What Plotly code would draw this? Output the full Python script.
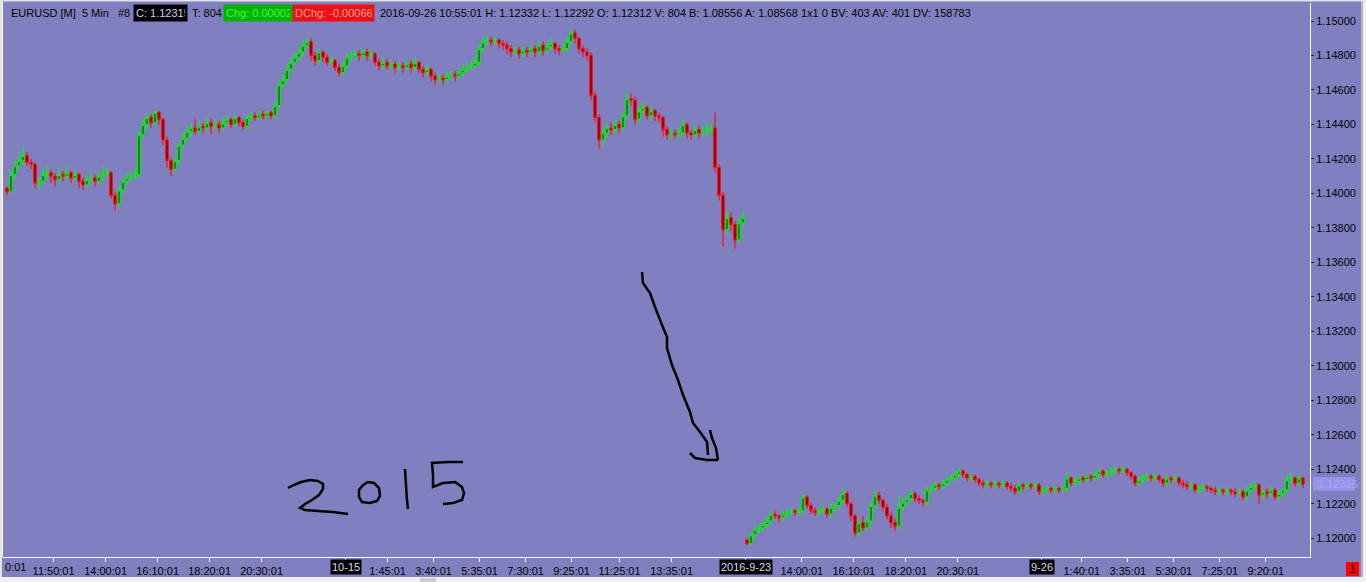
import plotly.graph_objects as go

# ---------------- data (10-minute candles) ----------------
seg1_open = [1.1403,1.1401,1.1411,1.1416,1.1419,1.1422,1.1418,1.1417,1.1406,1.1407,
 1.1411,1.1412,1.1410,1.1408,1.1411,1.1410,1.1412,1.1409,1.1411,1.1407,
 1.1405,1.1408,1.1409,1.1407,1.1410,1.1411,1.1412,1.1399,1.1394,1.1402,
 1.1407,1.1409,1.1410,1.1411,1.1434,1.1440,1.1444,1.1441,1.1447,1.1443,
 1.1431,1.1419,1.1414,1.1419,1.1428,1.1432,1.1436,1.1438,1.1436,1.1439,
 1.1438,1.1441,1.1439,1.1440,1.1438,1.1441,1.1443,1.1440,1.1444,1.1441,
 1.1439,1.1444,1.1445,1.1444,1.1446,1.1445,1.1447,1.1445,1.1451,1.1463,
 1.1466,1.1472,1.1476,1.1479,1.1482,1.1486,1.1488,1.1480,1.1477,1.1482,
 1.1479,1.1476,1.1477,1.1473,1.1470,1.1474,1.1479,1.1480,1.1481,1.1480,
 1.1482,1.1480,1.1481,1.1476,1.1474,1.1476,1.1474,1.1475,1.1473,1.1474,
 1.1473,1.1475,1.1473,1.1476,1.1472,1.1470,1.1472,1.1468,1.1466,1.1467,
 1.1466,1.1468,1.1469,1.1468,1.1470,1.1472,1.1473,1.1474,1.1476,1.1484,
 1.1488,1.1489,1.1488,1.1489,1.1487,1.1486,1.1484,1.1482,1.1483,1.1481,
 1.1483,1.1482,1.1484,1.1482,1.1486,1.1483,1.1485,1.1487,1.1484,1.1483,
 1.1484,1.1488,1.1493,1.1490,1.1484,1.1482,1.1480,1.1457,1.1444,1.1431,
 1.1435,1.1438,1.1437,1.1440,1.1438,1.1445,1.1455,1.1454,1.1443,1.1448,
 1.1450,1.1445,1.1448,1.1445,1.1444,1.1437,1.1434,1.1435,1.1434,1.1435,
 1.1440,1.1435,1.1434,1.1437,1.1435,1.1436,1.1437,1.1438,1.1415,1.1399,
 1.1379,1.1386,1.1382,1.1373,1.1383]
seg1_high = [1.1404,1.1413,1.1419,1.1424,1.1428,1.1424,1.1420,1.1418,1.1409,1.1414,
 1.1416,1.1414,1.1412,1.1415,1.1413,1.1416,1.1413,1.1414,1.1412,1.1409,
 1.1411,1.1413,1.1411,1.1413,1.1416,1.1415,1.1413,1.1401,1.1404,1.1409,
 1.1412,1.1413,1.1415,1.1436,1.1443,1.1447,1.1446,1.1449,1.1448,1.1444,
 1.1433,1.1421,1.1422,1.1430,1.1435,1.1439,1.1441,1.1443,1.1442,1.1441,
 1.1445,1.1443,1.1443,1.1442,1.1444,1.1445,1.1444,1.1446,1.1445,1.1443,
 1.1446,1.1448,1.1447,1.1448,1.1448,1.1449,1.1448,1.1453,1.1466,1.1469,
 1.1475,1.1479,1.1482,1.1485,1.1489,1.1491,1.1490,1.1482,1.1484,1.1483,
 1.1481,1.1480,1.1478,1.1475,1.1477,1.1481,1.1483,1.1484,1.1483,1.1485,
 1.1484,1.1483,1.1482,1.1478,1.1479,1.1478,1.1478,1.1477,1.1477,1.1476,
 1.1478,1.1477,1.1479,1.1477,1.1474,1.1475,1.1473,1.1470,1.1470,1.1469,
 1.1471,1.1472,1.1471,1.1473,1.1475,1.1476,1.1477,1.1479,1.1486,1.1491,
 1.1492,1.1491,1.1491,1.1490,1.1489,1.1488,1.1486,1.1486,1.1485,1.1486,
 1.1485,1.1487,1.1486,1.1489,1.1488,1.1488,1.1490,1.1488,1.1486,1.1487,
 1.1491,1.1496,1.1495,1.1491,1.1486,1.1484,1.1482,1.1459,1.1446,1.1438,
 1.1442,1.1441,1.1443,1.1442,1.1447,1.1459,1.1458,1.1456,1.1451,1.1453,
 1.1451,1.1451,1.1449,1.1447,1.1445,1.1439,1.1438,1.1437,1.1438,1.1443,
 1.1441,1.1437,1.1440,1.1439,1.1440,1.1441,1.1441,1.1447,1.1417,1.1401,
 1.1390,1.1389,1.1384,1.1386,1.1390]
seg1_low = [1.1399,1.1400,1.1409,1.1414,1.1417,1.1416,1.1414,1.1403,1.1402,1.1405,
 1.1408,1.1406,1.1404,1.1406,1.1407,1.1408,1.1406,1.1407,1.1403,1.1402,
 1.1403,1.1406,1.1404,1.1405,1.1408,1.1409,1.1397,1.1390,1.1392,1.1400,
 1.1405,1.1407,1.1408,1.1409,1.1432,1.1437,1.1438,1.1439,1.1440,1.1428,
 1.1415,1.1410,1.1412,1.1417,1.1426,1.1430,1.1433,1.1434,1.1434,1.1435,
 1.1436,1.1434,1.1437,1.1435,1.1436,1.1439,1.1438,1.1438,1.1439,1.1437,
 1.1437,1.1442,1.1442,1.1442,1.1443,1.1443,1.1443,1.1443,1.1449,1.1461,
 1.1464,1.1470,1.1474,1.1477,1.1480,1.1484,1.1477,1.1474,1.1475,1.1476,
 1.1474,1.1474,1.1471,1.1468,1.1468,1.1472,1.1477,1.1478,1.1477,1.1478,
 1.1477,1.1478,1.1474,1.1471,1.1472,1.1472,1.1472,1.1470,1.1471,1.1470,
 1.1471,1.1470,1.1471,1.1470,1.1467,1.1468,1.1465,1.1463,1.1464,1.1463,
 1.1464,1.1466,1.1465,1.1466,1.1468,1.1470,1.1471,1.1472,1.1474,1.1482,
 1.1486,1.1485,1.1486,1.1484,1.1483,1.1481,1.1479,1.1480,1.1478,1.1479,
 1.1479,1.1480,1.1479,1.1480,1.1480,1.1481,1.1483,1.1481,1.1480,1.1481,
 1.1482,1.1486,1.1487,1.1481,1.1479,1.1477,1.1454,1.1441,1.1426,1.1427,
 1.1433,1.1434,1.1435,1.1435,1.1436,1.1443,1.1451,1.1440,1.1441,1.1446,
 1.1443,1.1443,1.1442,1.1441,1.1433,1.1431,1.1432,1.1432,1.1432,1.1433,
 1.1432,1.1431,1.1432,1.1432,1.1433,1.1433,1.1434,1.1412,1.1396,1.1369,
 1.1376,1.1378,1.1368,1.1371,1.1381]
seg1_close = [1.1401,1.1411,1.1416,1.1419,1.1422,1.1418,1.1417,1.1406,1.1407,1.1411,
 1.1412,1.1410,1.1408,1.1411,1.1410,1.1412,1.1409,1.1411,1.1407,1.1405,
 1.1408,1.1409,1.1407,1.1410,1.1411,1.1412,1.1399,1.1394,1.1402,1.1407,
 1.1409,1.1410,1.1411,1.1434,1.1440,1.1444,1.1441,1.1447,1.1443,1.1431,
 1.1419,1.1414,1.1419,1.1428,1.1432,1.1436,1.1438,1.1436,1.1439,1.1438,
 1.1441,1.1439,1.1440,1.1438,1.1441,1.1443,1.1440,1.1444,1.1441,1.1439,
 1.1444,1.1445,1.1444,1.1446,1.1445,1.1447,1.1445,1.1451,1.1463,1.1466,
 1.1472,1.1476,1.1479,1.1482,1.1486,1.1488,1.1480,1.1477,1.1482,1.1479,
 1.1476,1.1477,1.1473,1.1470,1.1474,1.1479,1.1480,1.1481,1.1480,1.1482,
 1.1480,1.1481,1.1476,1.1474,1.1476,1.1474,1.1475,1.1473,1.1474,1.1473,
 1.1475,1.1473,1.1476,1.1472,1.1470,1.1472,1.1468,1.1466,1.1467,1.1466,
 1.1468,1.1469,1.1468,1.1470,1.1472,1.1473,1.1474,1.1476,1.1484,1.1488,
 1.1489,1.1488,1.1489,1.1487,1.1486,1.1484,1.1482,1.1483,1.1481,1.1483,
 1.1482,1.1484,1.1482,1.1486,1.1483,1.1485,1.1487,1.1484,1.1483,1.1484,
 1.1488,1.1493,1.1490,1.1484,1.1482,1.1480,1.1457,1.1444,1.1431,1.1435,
 1.1438,1.1437,1.1440,1.1438,1.1445,1.1455,1.1454,1.1443,1.1448,1.1450,
 1.1445,1.1448,1.1445,1.1444,1.1437,1.1434,1.1435,1.1434,1.1435,1.1440,
 1.1435,1.1434,1.1437,1.1435,1.1436,1.1437,1.1438,1.1415,1.1399,1.1379,
 1.1386,1.1382,1.1373,1.1383,1.1386]

seg2_open = [1.1199,1.1197,1.1202,1.1205,1.1206,1.1208,1.1210,1.1214,1.1213,1.1212,
 1.1214,1.1215,1.1216,1.1215,1.1216,1.1224,1.1219,1.1216,1.1215,1.1216,
 1.1217,1.1214,1.1218,1.1219,1.1222,1.1226,1.1220,1.1213,1.1203,1.1209,
 1.1206,1.1210,1.1219,1.1225,1.1222,1.1218,1.1213,1.1209,1.1207,1.1218,
 1.1221,1.1223,1.1226,1.1223,1.1222,1.1221,1.1228,1.1229,1.1231,1.1230,
 1.1232,1.1234,1.1235,1.1237,1.1239,1.1237,1.1235,1.1236,1.1234,1.1232,
 1.1231,1.1232,1.1231,1.1232,1.1231,1.1232,1.1230,1.1229,1.1227,1.1231,
 1.1230,1.1231,1.1230,1.1231,1.1227,1.1228,1.1229,1.1228,1.1229,1.1228,
 1.1229,1.1235,1.1232,1.1233,1.1235,1.1234,1.1236,1.1235,1.1237,1.1239,
 1.1237,1.1238,1.1239,1.1240,1.1239,1.1240,1.1238,1.1236,1.1232,1.1234,
 1.1235,1.1236,1.1235,1.1236,1.1234,1.1232,1.1235,1.1234,1.1235,1.1232,
 1.1231,1.1230,1.1231,1.1228,1.1229,1.1230,1.1229,1.1228,1.1227,1.1228,
 1.1227,1.1228,1.1227,1.1226,1.1227,1.1224,1.1228,1.1230,1.1231,1.1225,
 1.1227,1.1226,1.1228,1.1224,1.1226,1.1228,1.1234,1.1235,1.1232,1.1235]
seg2_high = [1.1200,1.1203,1.1207,1.1208,1.1210,1.1213,1.1217,1.1216,1.1214,1.1216,
 1.1217,1.1218,1.1217,1.1218,1.1226,1.1225,1.1221,1.1218,1.1218,1.1219,
 1.1218,1.1220,1.1221,1.1224,1.1229,1.1227,1.1221,1.1214,1.1211,1.1213,
 1.1212,1.1221,1.1228,1.1227,1.1223,1.1220,1.1215,1.1211,1.1225,1.1223,
 1.1225,1.1228,1.1227,1.1225,1.1223,1.1230,1.1231,1.1233,1.1232,1.1234,
 1.1236,1.1237,1.1239,1.1241,1.1240,1.1238,1.1238,1.1237,1.1235,1.1234,
 1.1234,1.1233,1.1234,1.1233,1.1234,1.1233,1.1232,1.1231,1.1233,1.1232,
 1.1233,1.1232,1.1233,1.1232,1.1230,1.1231,1.1230,1.1231,1.1230,1.1231,
 1.1238,1.1236,1.1235,1.1237,1.1236,1.1238,1.1237,1.1239,1.1241,1.1240,
 1.1240,1.1241,1.1242,1.1241,1.1242,1.1241,1.1239,1.1237,1.1236,1.1237,
 1.1238,1.1237,1.1238,1.1237,1.1235,1.1237,1.1236,1.1237,1.1236,1.1234,
 1.1233,1.1233,1.1232,1.1231,1.1232,1.1231,1.1230,1.1230,1.1230,1.1229,
 1.1230,1.1229,1.1229,1.1229,1.1228,1.1230,1.1232,1.1233,1.1232,1.1229,
 1.1229,1.1230,1.1229,1.1228,1.1230,1.1237,1.1238,1.1236,1.1237,1.12332]
seg2_low = [1.1196,1.1195,1.1200,1.1203,1.1204,1.1206,1.1208,1.1211,1.1209,1.1210,
 1.1212,1.1213,1.1213,1.1213,1.1214,1.1217,1.1214,1.1213,1.1213,1.1214,
 1.1212,1.1212,1.1216,1.1217,1.1220,1.1218,1.1210,1.1201,1.1201,1.1204,
 1.1204,1.1208,1.1217,1.1220,1.1216,1.1211,1.1206,1.1204,1.1205,1.1216,
 1.1219,1.1221,1.1221,1.1220,1.1218,1.1219,1.1226,1.1227,1.1228,1.1228,
 1.1230,1.1232,1.1233,1.1235,1.1235,1.1233,1.1233,1.1232,1.1230,1.1229,
 1.1229,1.1229,1.1229,1.1229,1.1229,1.1228,1.1227,1.1225,1.1226,1.1228,
 1.1228,1.1228,1.1228,1.1225,1.1225,1.1226,1.1226,1.1226,1.1226,1.1226,
 1.1227,1.1230,1.1230,1.1231,1.1232,1.1232,1.1233,1.1233,1.1235,1.1235,
 1.1235,1.1236,1.1237,1.1237,1.1237,1.1236,1.1234,1.1230,1.1230,1.1232,
 1.1233,1.1233,1.1233,1.1232,1.1230,1.1230,1.1232,1.1232,1.1230,1.1229,
 1.1228,1.1228,1.1226,1.1226,1.1227,1.1227,1.1226,1.1225,1.1225,1.1225,
 1.1225,1.1225,1.1224,1.1224,1.1222,1.1222,1.1226,1.1228,1.1220,1.1223,
 1.1223,1.1224,1.1222,1.1222,1.1224,1.1226,1.1232,1.1230,1.1230,1.12292]
seg2_close = [1.1197,1.1202,1.1205,1.1206,1.1208,1.1210,1.1214,1.1213,1.1212,1.1214,
 1.1215,1.1216,1.1215,1.1216,1.1224,1.1219,1.1216,1.1215,1.1216,1.1217,
 1.1214,1.1218,1.1219,1.1222,1.1226,1.1220,1.1213,1.1203,1.1209,1.1206,
 1.1210,1.1219,1.1225,1.1222,1.1218,1.1213,1.1209,1.1207,1.1218,1.1221,
 1.1223,1.1226,1.1223,1.1222,1.1221,1.1228,1.1229,1.1231,1.1230,1.1232,
 1.1234,1.1235,1.1237,1.1239,1.1237,1.1235,1.1236,1.1234,1.1232,1.1231,
 1.1232,1.1231,1.1232,1.1231,1.1232,1.1230,1.1229,1.1227,1.1231,1.1230,
 1.1231,1.1230,1.1231,1.1227,1.1228,1.1229,1.1228,1.1229,1.1228,1.1229,
 1.1235,1.1232,1.1233,1.1235,1.1234,1.1236,1.1235,1.1237,1.1239,1.1237,
 1.1238,1.1239,1.1240,1.1239,1.1240,1.1238,1.1236,1.1232,1.1234,1.1235,
 1.1236,1.1235,1.1236,1.1234,1.1232,1.1235,1.1234,1.1235,1.1232,1.1231,
 1.1230,1.1231,1.1228,1.1229,1.1230,1.1229,1.1228,1.1227,1.1228,1.1227,
 1.1228,1.1227,1.1226,1.1227,1.1224,1.1228,1.1230,1.1231,1.1225,1.1227,
 1.1226,1.1228,1.1224,1.1226,1.1228,1.1234,1.1235,1.1232,1.1235,1.12315]

# x tick labels (positions in bar units) and highlighted date labels
tick_pos = [11.65, 24.65, 37.65, 50.65, 63.65, 95.15, 106.65, 118.15, 129.65, 141.15,
            153.15, 166.15, 198.7, 211.7, 224.7, 237.7, 268.7, 280.2, 291.7, 303.2, 314.7]
tick_text = ["11:50:01", "14:00:01", "16:10:01", "18:20:01", "20:30:01", "1:45:01", "3:40:01",
             "5:35:01", "7:30:01", "9:25:01", "11:25:01", "13:35:01", "14:00:01", "16:10:01",
             "18:20:01", "20:30:01", "1:40:01", "3:35:01", "5:30:01", "7:25:01", "9:20:01"]
date_pos = [84.65, 184.65, 258.7]
date_text = ["10-15", "2016-9-23", "9-26"]
edge_text = "0:01"
y_ticks = [1.120, 1.122, 1.124, 1.126, 1.128, 1.130, 1.132, 1.134,
           1.136, 1.138, 1.140, 1.142, 1.144, 1.146, 1.148, 1.150]
last_price = 1.12315

# ---------------- figure ----------------
opens = seg1_open + seg2_open
highs = seg1_high + seg2_high
lows = seg1_low + seg2_low
closes = seg1_close + seg2_close
xs = list(range(len(closes)))

BG = "#8080C0"
W, H = 1366, 582
L, R, T, B = 3, 1310, 3, 557
def px(x):
    return (x - L) / (R - L)
def py(y):
    return (B - y) / (B - T)

fig = go.Figure(go.Candlestick(
    x=xs, open=opens, high=highs, low=lows, close=closes,
    increasing=dict(line=dict(color="#00ff00", width=1), fillcolor="#006800"),
    decreasing=dict(line=dict(color="#ff0000", width=1), fillcolor="#8c0000"),
    hoverinfo="skip", showlegend=False,
))

FONT = "Liberation Sans"
fig.update_layout(
    width=W, height=H,
    margin=dict(l=L, r=W - R, t=T, b=H - B, autoexpand=False),
    paper_bgcolor=BG, plot_bgcolor=BG,
    boxgap=0.15,
    font=dict(family=FONT, size=11, color="#000000"),
    showlegend=False,
    hovermode=False,
)
fig.update_xaxes(
    range=[-1, 325.75], rangeslider=dict(visible=False), automargin=False,
    tickmode="array", tickvals=tick_pos + date_pos, ticktext=tick_text + ["", "", ""],
    ticks="outside", ticklen=4, tickcolor="white", tickwidth=1,
    showline=True, linecolor="white", linewidth=1,
    showgrid=False, zeroline=False,
    tickfont=dict(family=FONT, size=11, color="#000000"),
)
fig.update_yaxes(
    range=[1.118915, 1.151044], side="right", automargin=False,
    tickmode="array", tickvals=y_ticks, tickformat=".5f",
    ticks="outside", ticklen=3, tickcolor="#202030", tickwidth=1,
    showline=True, linecolor="white", linewidth=1,
    showgrid=False, zeroline=False,
    tickfont=dict(family=FONT, size=11, color="#000000"),
)

ann = []
label_y = py(567)
for p, t in zip(date_pos, date_text):
    ann.append(dict(x=p, y=label_y, xref="x", yref="paper", text=t, showarrow=False,
                    xanchor="center", yanchor="middle", bgcolor="#000000", borderpad=1,
                    font=dict(family=FONT, size=11, color="#d8d8f0")))
ann.append(dict(x=px(3), y=label_y, xref="paper", yref="paper", text=edge_text,
                showarrow=False, xanchor="left", yanchor="middle",
                font=dict(family=FONT, size=11, color="#000000")))

# header line
hdr_y = py(13)
NB = "\u00a0"
header = [
    (8, "EURUSD [M]" + NB * 2 + "5 Min" + NB * 3 + "#8", None, "#000000", None),
    (133, "C: 1.12315", "#000000", "#d0d0f0", 49),
    (189, "T: 804", None, "#000000", None),
    (223, "Chg: 0.00002", "#00b400", "#50f050", 64),
    (292, "DChg: -0.00066", "#f01010", "#ffa0a0", 77),
    (377, "2016-09-26 10:55:01 H: 1.12332 L: 1.12292 O: 1.12312 V: 804 B: 1.08556 A: 1.08568 1x1 0 BV: 403 AV: 401 DV: 158783", None, "#000000", None),
]
for xp, t, bgc, fc, wd in header:
    d = dict(x=px(xp), y=hdr_y, xref="paper", yref="paper", text=t, showarrow=False,
             xanchor="left", yanchor="middle", borderpad=2, align="left",
             font=dict(family=FONT, size=11, color=fc))
    if bgc:
        d["bgcolor"] = bgc
    if wd:
        d["width"] = wd
    ann.append(d)

# current price label on the axis
ann.append(dict(x=px(1316), y=last_price, xref="paper", yref="y", text="1.12315",
                showarrow=False, xanchor="left", yanchor="middle",
                font=dict(family=FONT, size=11, color="#a8a8f4")))
# red box "1"
ann.append(dict(x=px(1352.5), y=py(569), xref="paper", yref="paper", text="1",
                showarrow=False, xanchor="center", yanchor="middle",
                font=dict(family=FONT, size=12, color="#000000")))
fig.update_layout(annotations=ann)

shapes = []
def rect(x0, y0, x1, y1, color):
    shapes.append(dict(type="rect", xref="paper", yref="paper", x0=px(x0), x1=px(x1),
                       y0=py(y0), y1=py(y1), fillcolor=color, line=dict(width=0), layer="above"))

shapes.append(dict(type="rect", xref="paper", yref="y", x0=px(1313), x1=px(1355),
                   y0=last_price - 0.0004, y1=last_price + 0.0004,
                   fillcolor="#9494ea", line=dict(width=0), layer="below"))
rect(1346, 562, 1359, 576, "#ff0000")
rect(0, 577, 1366, 582, "#f0f0f0")
rect(420, 578, 436, 582, "#cdcdcd")
rect(1361, 0, 1363, 577, "#b8b8b8")
rect(1363, 0, 1366, 577, "#f0f0f0")
rect(0, 0, 2, 577, "#e4e4e4")
rect(0, 0, 1366, 1.5, "#e4e4e4")
shapes.append(dict(type="line", xref="paper", yref="paper", x0=px(2.5), x1=px(2.5),
                   y0=py(557), y1=py(2), line=dict(color="white", width=1)))

# hand-drawn annotation strokes (pixel points)
strokes = [
    [(288,488),(294,485),(301,482),(310,480),(318,481),(323,484),(323,489),(319,495),
     (312,500),(305,504),(300,508),(305,510),(318,511),(333,512),(348,514)],
    [(363,485),(368,482),(374,483),(379,488),(380,496),(377,501),(370,503),(362,502),
     (359,497),(359,490),(363,485)],
    [(405,469),(406,485),(407,500),(408,509)],
    [(463,462),(448,462),(432,463),(433,475),(433,487),(443,483),(455,482),(462,487),
     (464,493),(462,500),(453,503),(443,504)],
    [(642,272),(643,283),(650,293),(655,307),(662,325),(667,337),(667,348),(672,365),
     (678,380),(683,395),(690,412),(693,423),(700,432),(707,442),(708,455)],
    [(710,430),(712,438),(716,448),(718,460)],
    [(690,453),(695,458),(707,460),(718,460)],
]
for st in strokes:
    path = "M " + " L ".join(f"{px(a):.5f},{py(b):.5f}" for a, b in st)
    shapes.append(dict(type="path", xref="paper", yref="paper", path=path,
                       line=dict(color="#000000", width=2.5), layer="above"))
fig.update_layout(shapes=shapes)

fig.write_html("out.html", config={"displayModeBar": False},
               post_script="document.body.style.margin='0';document.body.style.overflow='hidden';")
